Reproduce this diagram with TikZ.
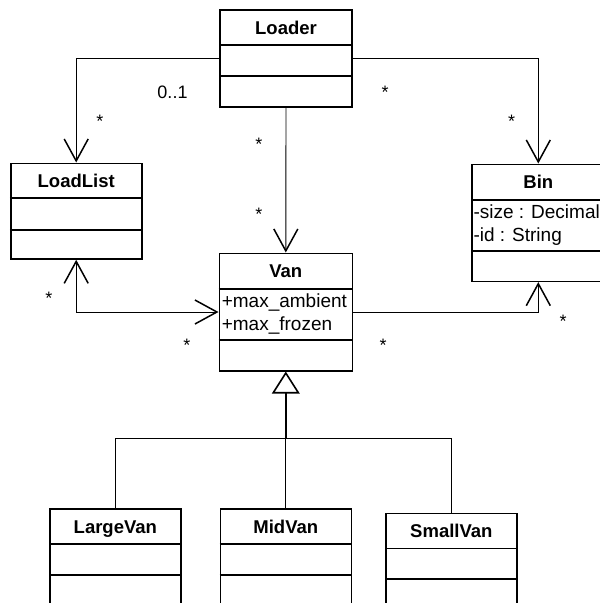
\documentclass[tikz,border=0pt]{standalone}
\usepackage{fontspec}
\setmainfont{Liberation Sans}
\usetikzlibrary{arrows.meta}
\tikzset{
  openv/.tip={Straight Barb[length=22pt,width=24pt,line width=1.5pt]},
  opentri/.tip={Triangle[open,length=22pt,width=27.6pt,line width=1.6pt]},
  umlbox/.style={draw=black, line width=1.6pt, inner sep=0pt},
  part/.style={line width=1.6pt},
  conn/.style={line width=0.9pt},
  stem/.style={line width=1.6pt},
  title/.style={font=\bfseries\fontsize{18.5}{21}\selectfont, inner sep=0pt, anchor=base},
  attr/.style={font=\fontsize{19}{22}\selectfont, inner sep=0pt, anchor=base west},
  mult/.style={font=\fontsize{18}{21}\selectfont, inner sep=0pt, anchor=base}
}
\begin{document}
\begin{tikzpicture}[x=1pt,y=-1pt]
\useasboundingbox (0,0) rectangle (600,603);

% class boxes
\node[umlbox, minimum width=132pt, minimum height=96.7pt] (loader) at (286,58.35) {};
\node[umlbox, minimum width=131pt, minimum height=95.7pt] (loadlist) at (76.2,211.15) {};
\node[umlbox, minimum width=133pt, minimum height=117pt] (bin) at (538.3,222.8) {};
\node[umlbox, minimum width=133pt, minimum height=117.4pt] (van) at (285.8,312) {};
\node[umlbox, minimum width=130.7pt, minimum height=100pt] (largevan) at (115.35,559) {};
\node[umlbox, minimum width=131pt, minimum height=100pt] (midvan) at (285.8,559) {};
\node[umlbox, minimum width=130.7pt, minimum height=100pt] (smallvan) at (451.35,563.3) {};

% compartment dividers
\draw[part] (loader.west |- 0,45) -- (loader.east |- 0,45);
\draw[part] (loader.west |- 0,76) -- (loader.east |- 0,76);
\draw[part] (loadlist.west |- 0,197.7) -- (loadlist.east |- 0,197.7);
\draw[part] (loadlist.west |- 0,230) -- (loadlist.east |- 0,230);
\draw[part] (bin.west |- 0,199.8) -- (bin.east |- 0,199.8);
\draw[part] (bin.west |- 0,251) -- (bin.east |- 0,251);
\draw[part] (van.west |- 0,288.8) -- (van.east |- 0,288.8);
\draw[part] (van.west |- 0,340) -- (van.east |- 0,340);
\draw[part] (largevan.west |- 0,543.7) -- (largevan.east |- 0,543.7);
\draw[part] (largevan.west |- 0,575) -- (largevan.east |- 0,575);
\draw[part] (midvan.west |- 0,543.7) -- (midvan.east |- 0,543.7);
\draw[part] (midvan.west |- 0,575) -- (midvan.east |- 0,575);
\draw[part] (smallvan.west |- 0,548.3) -- (smallvan.east |- 0,548.3);
\draw[part] (smallvan.west |- 0,579) -- (smallvan.east |- 0,579);

% class names
\node[title] (loadername) at (286,34) {Loader};
\node[title] (loadlistname) at (76.2,187.3) {LoadList};
\node[title] (binname) at (538.3,188.3) {Bin};
\node[title] (vanname) at (285.8,277.3) {Van};
\node[title] (largevanname) at (115.35,533) {LargeVan};
\node[title] (midvanname) at (285.8,533) {MidVan};
\node[title] (smallvanname) at (451.35,537) {SmallVan};

% attributes
\node[attr] (binattra) at (473.3,218.3) {-size : Decimal};
\node[attr] (binattrb) at (473.3,241.6) {-id : String};
\node[attr] (vanattra) at (221.6,307.3) {+max\_ambient};
\node[attr] (vanattrb) at (221.6,330.6) {+max\_frozen};

% associations
\draw[conn,-openv] (loader.west) -| (loadlist.north);
\draw[conn,-openv] (loader.east) -| (bin.north);
\draw[conn,-openv] (loader.south) -- (van.north);
\draw[conn,openv-openv] (loadlist.south) |- (van.west);
\draw[conn,openv-] (bin.south) |- (van.east);

% generalization
\coordinate (genjoin) at (285.8,438.5);
\draw[stem,-opentri] (genjoin) -- (van.south);
\draw[conn] (midvan.north) -- (genjoin);
\draw[conn] (largevan.north) |- (genjoin);
\draw[conn] (smallvan.north) |- (genjoin);

% multiplicities
\node[mult] (m01) at (172.5,98) {0..1};
\node[mult] (mlla) at (100,127.3) {*};
\node[mult] (mbina) at (385,98) {*};
\node[mult] (mbinb) at (511.7,127.6) {*};
\node[mult] (mvana) at (259,150.3) {*};
\node[mult] (mvanb) at (259,220.3) {*};
\node[mult] (mllb) at (49,304.3) {*};
\node[mult] (mvanc) at (187,351) {*};
\node[mult] (mbinc) at (563,327) {*};
\node[mult] (mvand) at (383,351.3) {*};
\end{tikzpicture}
\end{document}
